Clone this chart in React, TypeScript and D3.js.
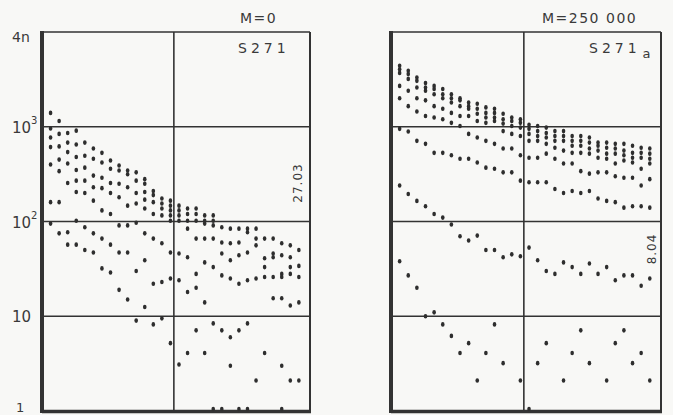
import React from 'react';
import * as d3 from 'd3';

// x positions (sample index) for both panels
const columnIndex = [1, 2, 3, 4, 5, 6, 7, 8, 9, 10, 11, 12, 13, 14, 15, 16, 17, 18, 19, 20, 21, 22, 23, 24, 25, 26, 27, 28, 29, 30];
const midColumn = 15.4;
const yGridValues = [10, 100, 1000];
const yTickLabels = [
  { value: 1000, base: '10', exp: '3' },
  { value: 100, base: '10', exp: '2' },
  { value: 10, base: '10', exp: '' },
  { value: 1, base: '1', exp: '' },
];
const yAxisTitle = '4n';

// Left panel  (M=0, S271): values per column
const leftTitle = 'M=0';
const leftLabel = 'S271';
const leftNote = '27.03';
const s271Columns: number[][] = [
  [1400, 960, 770, 610, 400, 160, 95],
  [1150, 840, 620, 450, 340, 160, 75],
  [860, 680, 540, 410, 255, 77, 57],
  [910, 650, 480, 350, 270, 205, 102, 57],
  [680, 495, 370, 270, 200, 87, 50],
  [590, 460, 305, 230, 166, 75, 47],
  [530, 420, 290, 225, 131, 66, 32],
  [440, 360, 255, 200, 120, 57, 29],
  [390, 345, 250, 180, 91, 47, 19],
  [345, 315, 230, 147, 91, 47, 15],
  [330, 270, 200, 155, 97, 30, 9],
  [280, 250, 205, 170, 137, 75, 39, 12.5],
  [210, 190, 160, 120, 66, 22, 8.2],
  [175, 155, 137, 116, 59, 23, 9.5],
  [166, 147, 131, 116, 102, 47, 25, 5.2],
  [147, 131, 116, 102, 46, 24, 3.1],
  [137, 120, 102, 84, 42, 18, 4.1],
  [137, 120, 102, 66, 28, 20, 7.1],
  [116, 102, 95, 66, 37, 14, 4.1],
  [116, 102, 91, 66, 33, 8.4, 1.05],
  [87, 60, 46, 27, 7.1, 1.05],
  [84, 59, 39, 25, 6, 3],
  [84, 60, 44, 22, 7.1, 1.05],
  [84, 77, 47, 24, 8.4, 1.05],
  [84, 66, 56, 25, 2.1],
  [66, 41, 33, 26, 4.1],
  [66, 46, 42, 26, 15.5],
  [59, 44, 28, 26, 15.5, 3, 1.05],
  [56, 42, 33, 28, 13, 2.1],
  [50, 34, 26, 14, 2.1],
];

// Right panel (M=250 000, S271a): values per series
const rightTitle = 'M=250 000';
const rightLabel = 'S271';
const rightLabelSub = 'a';
const rightNote = '8.04';
const s271aSeries1 = [4400, 3900, 3300, 2900, 2700, 2500, 2200, 2000, 1800, 1750, 1600, 1550, 1370, 1250, 1200, 1050, 1020, 980, 900, 900, 800, 800, 770, 680, 680, 660, 660, 630, 600, 590];
const s271aSeries2 = [4050, 3600, 3050, 2600, 2500, 2200, 2000, 1900, 1650, 1550, 1400, 1400, 1200, 1150, 1100, 950, 900, 860, 800, 800, 710, 710, 680, 630, 600, 590, 560, 530, 530, 520];
const s271aSeries3 = [3700, 3200, 2600, 2400, 2200, 2000, 1800, 1650, 1550, 1370, 1250, 1250, 1080, 1020, 980, 840, 800, 770, 710, 710, 630, 630, 590, 560, 520, 520, 500, 470, 470, 460];
const s271aSeries4 = [2700, 2400, 2000, 1900, 1650, 1550, 1400, 1300, 1300, 1150, 1100, 1150, 900, 840, 800, 710, 710, 660, 600, 560, 530, 530, 520, 470, 460, 410, 440, 420, 360, 410];
const s271aSeries5 = [2000, 1650, 1450, 1300, 1250, 1200, 1100, 1020, 840, 770, 710, 660, 590, 590, 500, 470, 470, 520, 460, 410, 410, 340, 320, 330, 330, 300, 290, 290, 240, 280];
const s271aSeries6 = [950, 890, 710, 660, 530, 530, 500, 460, 460, 420, 370, 360, 330, 330, 270, 260, 260, 260, 220, 200, 210, 200, 210, 175, 165, 160, 140, 145, 145, 140];
const s271aSeries7 = [240, 195, 165, 145, 120, 110, 93, 70, 63, 71, 50, 50, 42, 45, 43, 53, 39, 30, 28, 37, 33, 28, 36, 28, 33, 24, 27, 27, 21, 25];
const s271aSeries8: (number | null)[] = [38, 27, 20, 10, 11, 8.2, 6.2, 4.1, 5.2, 2.1, 4.1, 8.2, 3.2, null, 2.1, 1.05, 3.2, 5.2, null, 2.1, 4.1, 7.1, 3.2, null, 2.1, 5.2, 7.1, 3.2, 4.1, 2.1];
const s271aSeries = [s271aSeries1, s271aSeries2, s271aSeries3, s271aSeries4, s271aSeries5, s271aSeries6, s271aSeries7, s271aSeries8];

const W = 673;
const H = 415;
const INK = '#333';
const TEXT = '#3a3a3a';
const FONT = '"DejaVu Sans", "Liberation Sans", sans-serif';

const yScale = d3.scaleLog().domain([1, 10000]).range([411, 32]);

type Pt = { c: number; v: number };

function Panel({ x0, x1, points, title, label, sub, note, noteX, noteY, titleX }: {
  x0: number; x1: number; points: Pt[]; title: string; label: string; sub?: string;
  note: string; noteX: number; noteY: number; titleX: number;
}) {
  const x = d3.scaleLinear().domain([0, 31.3]).range([x0, x1]);
  const yTop = yScale(10000);
  const yBot = yScale(1);
  return (
    <g>
      {yGridValues.map((g) => (
        <line key={g} x1={x0} x2={x1} y1={yScale(g)} y2={yScale(g)} stroke={INK} strokeWidth={1.6} />
      ))}
      <line x1={x(midColumn)} x2={x(midColumn)} y1={yTop} y2={yBot} stroke={INK} strokeWidth={1.6} />
      <line x1={x0} x2={x1} y1={yTop} y2={yTop} stroke={INK} strokeWidth={1.6} />
      <line x1={x1} x2={x1} y1={yTop} y2={yBot + 1} stroke={INK} strokeWidth={2} />
      <line x1={x0} x2={x0} y1={yTop - 1} y2={yBot + 2} stroke={INK} strokeWidth={4} />
      <line x1={x0} x2={x1 + 1} y1={yBot + 0.5} y2={yBot + 0.5} stroke={INK} strokeWidth={3.5} />
      {points.map((p, i) => (
        <ellipse key={i} cx={x(p.c)} cy={yScale(p.v)} rx={1.8} ry={2.3} fill="#2e2e2e" />
      ))}
      <text x={titleX} y={23} fontFamily={FONT} fontSize={14} fill={TEXT} letterSpacing={1.5}>{title}</text>
      <text x={x1 - 72} y={53} fontFamily={FONT} fontSize={14} fill={TEXT} letterSpacing={4}>
        {label}
        {sub ? <tspan fontSize={13} dy={5} dx={2}>{sub}</tspan> : null}
      </text>
      <text transform={`translate(${noteX},${noteY}) rotate(-90)`} fontFamily={FONT} fontSize={12} fill={TEXT} textAnchor="middle" letterSpacing={1}>{note}</text>
    </g>
  );
}

export default function App() {
  const leftPoints: Pt[] = [];
  s271Columns.forEach((vals, i) => vals.forEach((v) => leftPoints.push({ c: columnIndex[i], v })));
  const rightPoints: Pt[] = [];
  s271aSeries.forEach((s) => s.forEach((v, i) => { if (v != null) rightPoints.push({ c: columnIndex[i], v }); }));

  return (
    <svg width={W} height={H} style={{ position: 'absolute', left: 0, top: 0, display: 'block', background: '#f8f8f6' }}>
      <rect x={0} y={0} width={W} height={H} fill="#f8f8f6" />
      <text x={12} y={42} fontFamily={FONT} fontSize={14} fill={TEXT}>{yAxisTitle}</text>
      {yTickLabels.map((t) => (
        <text key={t.value} x={t.base === '1' ? 16 : 12}
          y={t.base === '1' ? yScale(t.value) + 1 : yScale(t.value) + 6}
          fontFamily={FONT} fontSize={t.base === '1' ? 13 : 15} fill={TEXT}>
          {t.base}
          {t.exp ? <tspan fontSize={10} dy={-9}>{t.exp}</tspan> : null}
        </text>
      ))}
      <Panel x0={42} x1={310} points={leftPoints} title={leftTitle} label={leftLabel}
        note={leftNote} noteX={302} noteY={183} titleX={240} />
      <Panel x0={391} x1={661} points={rightPoints} title={rightTitle} label={rightLabel} sub={rightLabelSub}
        note={rightNote} noteX={656} noteY={249} titleX={542} />
    </svg>
  );
}
